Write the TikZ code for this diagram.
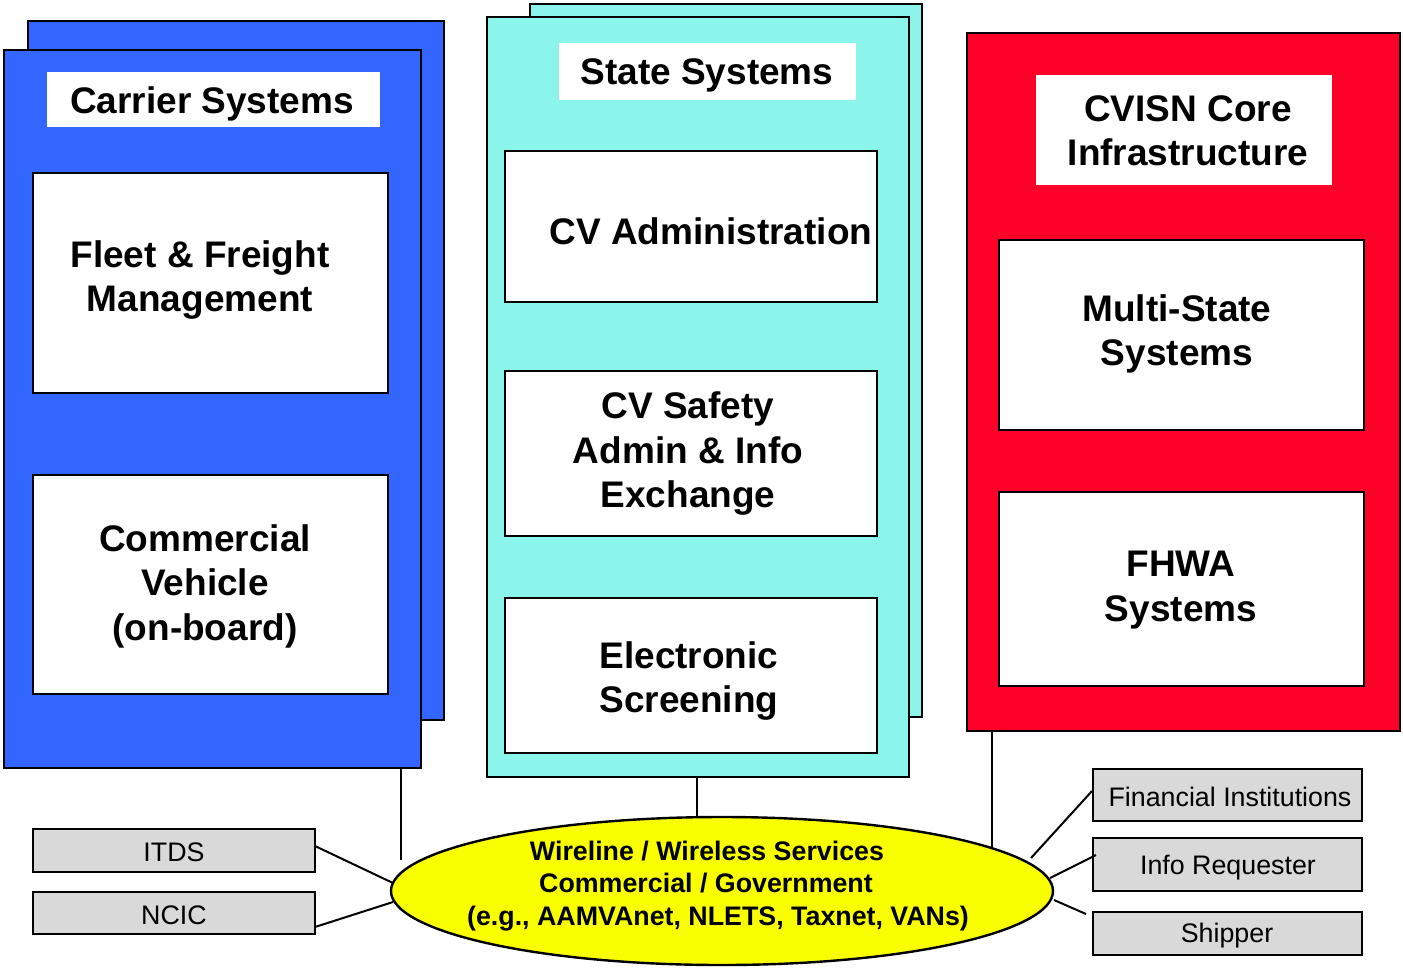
\documentclass[tikz,border=0pt]{standalone}
\usepackage{fontspec}
\setmainfont{Liberation Sans}
\usetikzlibrary{shapes.geometric}
\definecolor{cblue}{RGB}{51,102,255}
\definecolor{ccyan}{RGB}{140,245,235}
\definecolor{cred}{RGB}{255,0,40}
\definecolor{cyel}{RGB}{250,255,0}
\definecolor{cgray}{RGB}{217,217,217}
\newcommand\mkbox[6]{\node[#6, minimum width={(#4-#2)*1pt}, minimum height={(#5-#3)*1pt}] (#1) at ({(#2+#4)/2},{(#3+#5)/2}) {};}
\tikzset{
  rbox/.style={rectangle, inner sep=0pt, outer sep=0pt},
  panel/.style={rbox, draw=black, line width=2.4pt},
  whitebox/.style={rbox, draw=black, line width=2.2pt, fill=white},
  titlebox/.style={rbox, fill=white},
  graybox/.style={rbox, draw=black, line width=2.2pt, fill=cgray},
  bigtxt/.style={font=\fontsize{37}{44.5}\selectfont\bfseries, align=center, inner sep=0pt},
  smalltxt/.style={font=\fontsize{26.8}{32}\selectfont, align=center, inner sep=0pt},
  elltxt/.style={font=\fontsize{26.8}{32.5}\selectfont\bfseries, align=center, inner sep=0pt},
  conn/.style={line width=2pt, draw=black}
}
\begin{document}
\begin{tikzpicture}[x=1pt, y=-1pt]
\useasboundingbox (0,0) rectangle (1403,967);
% Carrier systems
\mkbox{cback}{28}{21}{444}{720}{panel, fill=cblue}
\mkbox{cfront}{4}{50}{421}{768}{panel, fill=cblue}
\mkbox{ctitle}{47}{72}{380}{127}{titlebox}
\node[bigtxt] (ctitletxt) at (212,104) {Carrier Systems};
\mkbox{fleet}{33}{173}{388}{393}{whitebox}
\node[bigtxt] (fleettxt) at (200,280) {Fleet \& Freight\\Management};
\mkbox{cveh}{33}{475}{388}{694}{whitebox}
\node[bigtxt] (cvehtxt) at (205,586) {Commercial\\Vehicle\\(on-board)};
% State systems
\mkbox{sback}{530}{4}{922}{717}{panel, fill=ccyan}
\mkbox{sfront}{487}{17}{909}{777}{panel, fill=ccyan}
\mkbox{stitle}{559}{43}{856}{100}{titlebox}
\node[bigtxt] (stitletxt) at (707,75) {State Systems};
\mkbox{cvadm}{505}{151}{877}{302}{whitebox}
\node[bigtxt] (cvadmtxt) at (711,231) {CV Administration};
\mkbox{cvsafe}{505}{371}{877}{536}{whitebox}
\node[bigtxt] (cvsafetxt) at (688,454) {CV Safety\\Admin \& Info\\Exchange};
\mkbox{escr}{505}{598}{877}{753}{whitebox}
\node[bigtxt] (escrtxt) at (689,681) {Electronic\\Screening};
% CVISN core
\mkbox{core}{967}{33}{1400}{731}{panel, fill=cred}
\mkbox{coretitle}{1036}{75}{1332}{185}{titlebox}
\node[bigtxt] (coretitletxt) at (1188,131) {CVISN Core\\Infrastructure};
\mkbox{multi}{999}{240}{1364}{430}{whitebox}
\node[bigtxt] (multitxt) at (1177,334) {Multi-State\\Systems};
\mkbox{fhwa}{999}{492}{1364}{686}{whitebox}
\node[bigtxt] (fhwatxt) at (1181,590) {FHWA\\Systems};
% Network ellipse
\node[ellipse, draw=black, line width=2.4pt, fill=cyel, inner sep=0pt,
      minimum width=662pt, minimum height=148pt] (net) at (722,891) {};
\node[elltxt] (nettxt) at (718,886) {Wireline / Wireless Services\kern22pt\\Commercial / Government\kern24pt\\(e.g., AAMVAnet, NLETS, Taxnet, VANs)};
% Gray boxes
\mkbox{itds}{33}{829}{315}{872}{graybox}
\node[smalltxt] (itdstxt) at (174,852) {ITDS};
\mkbox{ncic}{33}{892}{315}{934}{graybox}
\node[smalltxt] (ncictxt) at (174,915) {NCIC};
\mkbox{fin}{1093}{769}{1362}{821}{graybox}
\node[smalltxt] (fintxt) at (1230,797) {Financial Institutions};
\mkbox{info}{1093}{838}{1362}{891}{graybox}
\node[smalltxt] (infotxt) at (1228,868) {Info Requester};
\mkbox{ship}{1093}{912}{1362}{955}{graybox}
\node[smalltxt] (shiptxt) at (1227,936) {Shipper};
% Connector end points
\coordinate (cdown) at (401,860);
\coordinate (ctop) at (401,768);
\coordinate (stop) at (697,777);
\coordinate (sdown) at (697,817);
\coordinate (rtop) at (992,731);
\coordinate (rdown) at (992,848);
\coordinate (itdsend) at (315,846);
\coordinate (itdsell) at (393,883);
\coordinate (ncicend) at (315,927);
\coordinate (ncicell) at (393,902);
\coordinate (finell) at (1031,858);
\coordinate (finend) at (1092,791);
\coordinate (infoell) at (1050,878);
\coordinate (infoend) at (1096,855);
\coordinate (shipell) at (1054,900);
\coordinate (shipend) at (1086,914);
% Connectors
\draw[conn] (ctop) -- (cdown);
\draw[conn] (stop) -- (sdown);
\draw[conn] (rtop) -- (rdown);
\draw[conn] (itdsend) -- (itdsell);
\draw[conn] (ncicend) -- (ncicell);
\draw[conn] (finell) -- (finend);
\draw[conn] (infoell) -- (infoend);
\draw[conn] (shipell) -- (shipend);
\end{tikzpicture}
\end{document}
